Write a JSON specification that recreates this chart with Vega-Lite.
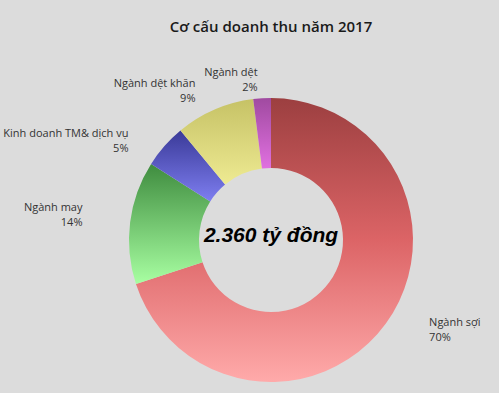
{
  "$schema": "https://vega.github.io/schema/vega-lite/v6.json",
  "autosize": "none",
  "width": 456,
  "height": 400,
  "padding": {"left": 43, "top": 40, "right": 0, "bottom": 0},
  "background": "#dcdcdc",
  "config": {"view": {"stroke": null}},
  "title": {
    "text": "Cơ cấu doanh thu năm 2017",
    "font": "Open Sans",
    "fontSize": 15,
    "fontWeight": 600,
    "color": "#1a1a1a",
    "anchor": "middle",
    "baseline": "alphabetic",
    "offset": -29
  },
  "datasets": {
    "rev": [
      {"nganh": "Ngành sợi", "pct": 70, "ord": 1, "label": ["Ngành sợi", "70%"]},
      {"nganh": "Ngành may", "pct": 14, "ord": 2, "label": ["Ngành may", "14%"]},
      {"nganh": "Kinh doanh TM& dịch vụ", "pct": 5, "ord": 3, "label": ["Kinh doanh TM& dịch vụ", "5%"]},
      {"nganh": "Ngành dệt khăn", "pct": 9, "ord": 4, "label": ["Ngành dệt khăn", "9%"]},
      {"nganh": "Ngành dệt", "pct": 2, "ord": 5, "label": ["Ngành dệt", "2%"]}
    ]
  },
  "layer": [
    {
      "data": {"name": "rev"},
      "mark": {"type": "arc", "outerRadius": 142, "innerRadius": 72},
      "encoding": {
        "theta": {"field": "pct", "type": "quantitative", "stack": true},
        "order": {"field": "ord", "type": "quantitative"},
        "color": {
          "condition": [
            {"test": "datum.ord == 1", "value": {"gradient": "linear", "x1": 0, "y1": 0, "x2": 0, "y2": 1, "stops": [{"offset": 0, "color": "#9c3f40"}, {"offset": 0.5, "color": "#dc6466"}, {"offset": 1, "color": "#ffaaaa"}]}},
            {"test": "datum.ord == 2", "value": {"gradient": "linear", "x1": 0, "y1": 0, "x2": 0, "y2": 1, "stops": [{"offset": 0, "color": "#3f8c3f"}, {"offset": 1, "color": "#a8ffa2"}]}},
            {"test": "datum.ord == 3", "value": {"gradient": "linear", "x1": 0, "y1": 0, "x2": 0, "y2": 1, "stops": [{"offset": 0, "color": "#3a3a98"}, {"offset": 1, "color": "#7e7ef0"}]}},
            {"test": "datum.ord == 4", "value": {"gradient": "linear", "x1": 0, "y1": 0, "x2": 0, "y2": 1, "stops": [{"offset": 0, "color": "#c6c266"}, {"offset": 1, "color": "#eeea92"}]}}
          ],
          "value": {"gradient": "linear", "x1": 0, "y1": 0, "x2": 0, "y2": 1, "stops": [{"offset": 0, "color": "#a04aa0"}, {"offset": 1, "color": "#e070e0"}]}
        }
      }
    },
    {
      "data": {"name": "rev"},
      "mark": {"type": "text", "radius": 188, "align": "left", "baseline": "middle", "font": "Open Sans", "fontSize": 11, "color": "#333333", "lineHeight": 15, "dx": 6, "dy": -28},
      "encoding": {
        "theta": {"field": "pct", "type": "quantitative", "stack": true},
        "order": {"field": "ord", "type": "quantitative"},
        "text": {"condition": {"test": "datum.ord == 1", "field": "label"}, "value": ""}
      }
    },
    {
      "data": {"name": "rev"},
      "mark": {"type": "text", "radius": 190, "align": "right", "baseline": "middle", "font": "Open Sans", "fontSize": 11, "color": "#333333", "lineHeight": 15, "dy": -8},
      "encoding": {
        "theta": {"field": "pct", "type": "quantitative", "stack": true},
        "order": {"field": "ord", "type": "quantitative"},
        "text": {"condition": {"test": "datum.ord == 2", "field": "label"}, "value": ""}
      }
    },
    {
      "data": {"name": "rev"},
      "mark": {"type": "text", "radius": 182, "align": "right", "baseline": "middle", "font": "Open Sans", "fontSize": 11, "color": "#333333", "lineHeight": 15, "dx": -6, "dy": 14},
      "encoding": {
        "theta": {"field": "pct", "type": "quantitative", "stack": true},
        "order": {"field": "ord", "type": "quantitative"},
        "text": {"condition": {"test": "datum.ord == 3", "field": "label"}, "value": ""}
      }
    },
    {
      "data": {"name": "rev"},
      "mark": {"type": "text", "radius": 170, "align": "right", "baseline": "middle", "font": "Open Sans", "fontSize": 11, "color": "#333333", "lineHeight": 15, "dx": -8},
      "encoding": {
        "theta": {"field": "pct", "type": "quantitative", "stack": true},
        "order": {"field": "ord", "type": "quantitative"},
        "text": {"condition": {"test": "datum.ord == 4", "field": "label"}, "value": ""}
      }
    },
    {
      "data": {"name": "rev"},
      "mark": {"type": "text", "radius": 164, "align": "right", "baseline": "middle", "font": "Open Sans", "fontSize": 11, "color": "#333333", "lineHeight": 15, "dx": -3, "dy": -3},
      "encoding": {
        "theta": {"field": "pct", "type": "quantitative", "stack": true},
        "order": {"field": "ord", "type": "quantitative"},
        "text": {"condition": {"test": "datum.ord == 5", "field": "label"}, "value": ""}
      }
    },
    {
      "data": {"values": [{"t": "2.360 tỷ đồng"}]},
      "mark": {"type": "text", "font": "Liberation Sans", "fontSize": 21, "fontWeight": "bold", "fontStyle": "italic", "color": "#000000", "baseline": "middle", "align": "center", "dy": -4},
      "encoding": {"text": {"field": "t"}}
    }
  ]
}
